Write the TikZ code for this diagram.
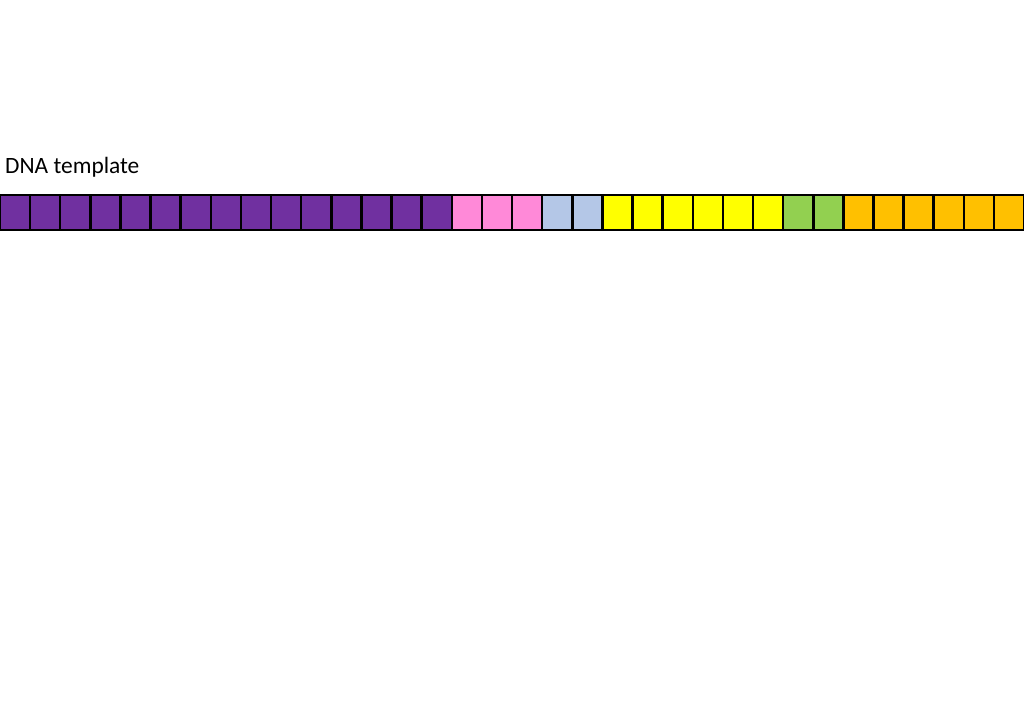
\documentclass[tikz,border=0pt]{standalone}
\usepackage{fontspec}
\setmainfont{Carlito}
\definecolor{cpurple}{HTML}{7030A0}
\definecolor{cpink}{HTML}{FF89D8}
\definecolor{cblue}{HTML}{B4C7E7}
\definecolor{cyellow}{HTML}{FFFF00}
\definecolor{cgreen}{HTML}{92D050}
\definecolor{corange}{HTML}{FFC000}
\begin{document}
\begin{tikzpicture}[x=1pt,y=1pt,
  base/.style={draw=black,line width=2.5pt,minimum width=30.12pt,minimum height=35pt,inner sep=0pt,outer sep=0pt,anchor=south west}]
\fill[white] (0,0) rectangle (1024,709);
\useasboundingbox (0,0) rectangle (1024,709);
\node[anchor=base west,font=\fontsize{23.4}{28}\selectfont,inner sep=0pt] (lbl) at (5,535.5) {DNA template};
\foreach \i in {0,...,33}{
  \pgfmathtruncatemacro{\c}{\i<15 ? 1 : (\i<18 ? 2 : (\i<20 ? 3 : (\i<26 ? 4 : (\i<28 ? 5 : 6))))}
  \ifcase\c\or\def\col{cpurple}\or\def\col{cpink}\or\def\col{cblue}\or\def\col{cyellow}\or\def\col{cgreen}\or\def\col{corange}\fi
  \node[base,fill=\col] (b\i) at ({\i*30.12},479) {};
}
\end{tikzpicture}
\end{document}
